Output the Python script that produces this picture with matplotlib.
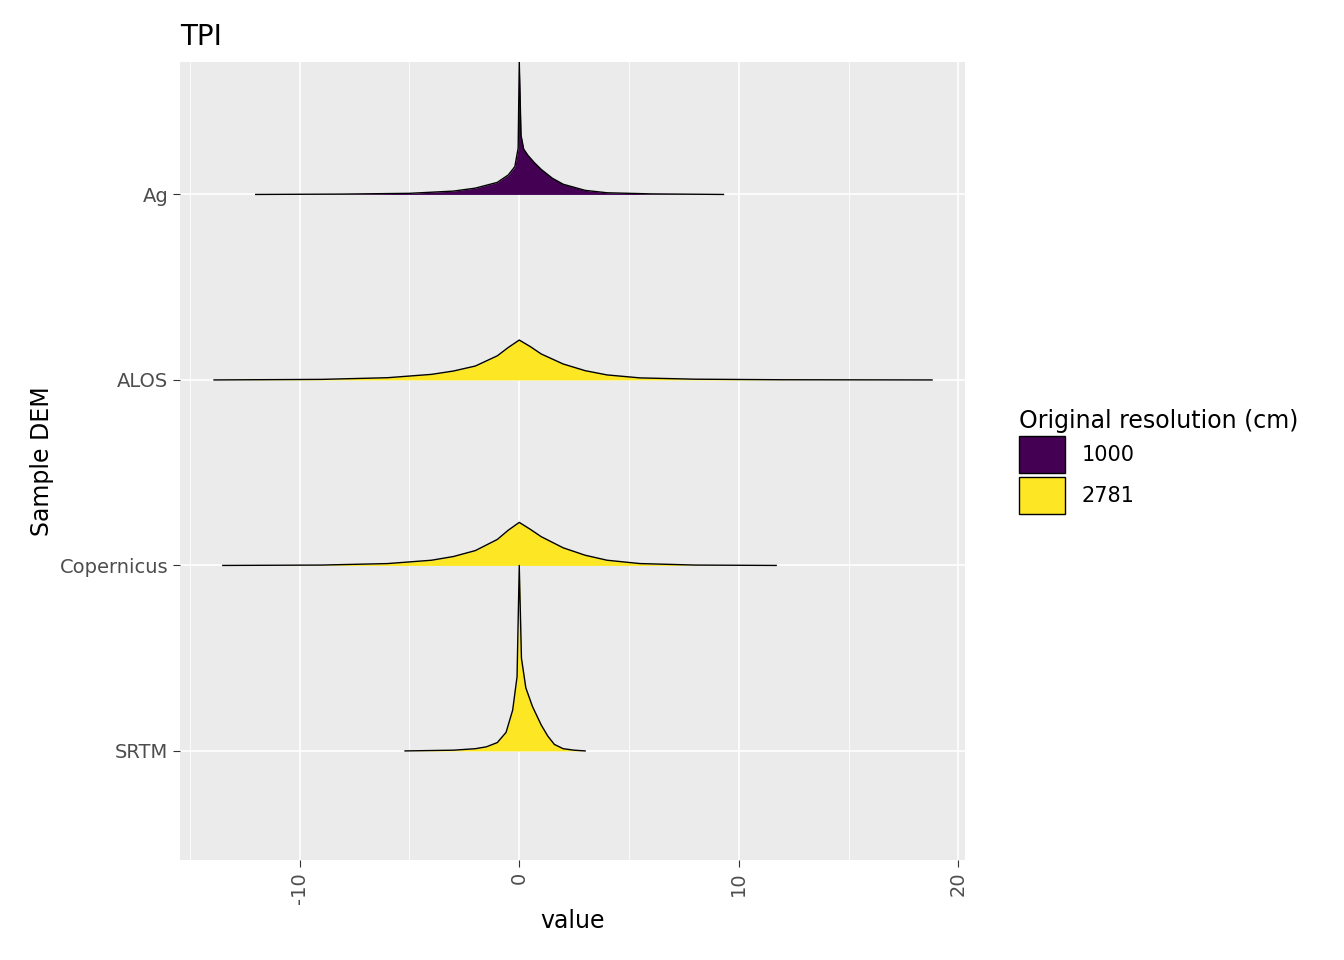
import matplotlib
matplotlib.use("Agg")
import matplotlib.pyplot as plt
from matplotlib.patches import Patch
import numpy as np

categories = ["SRTM", "Copernicus", "ALOS", "Ag"]
resolution = ["2781", "2781", "2781", "1000"]
res_colors = {"1000": "#440154", "2781": "#FDE725"}

# ridge profiles: x values and heights (in category-spacing units)
ag_x = [-12, -8, -5, -3, -2, -1, -0.5, -0.2, -0.05, 0, 0.08, 0.2, 0.4, 0.7, 1, 1.5, 2, 3, 4, 6, 9.3]
ag_h = [0, 0.002, 0.006, 0.018, 0.034, 0.065, 0.105, 0.15, 0.25, 0.717, 0.32, 0.245, 0.21, 0.17, 0.135, 0.088, 0.055, 0.022, 0.009, 0.003, 0]
alos_x = [-13.9, -9, -6, -4, -3, -2, -1, -0.5, 0, 0.5, 1, 2, 3, 4, 5.5, 8, 12, 18.8]
alos_h = [0, 0.003, 0.012, 0.03, 0.048, 0.075, 0.13, 0.175, 0.215, 0.18, 0.14, 0.086, 0.05, 0.027, 0.011, 0.004, 0.001, 0]
cop_x = [-13.5, -9, -6, -4, -3, -2, -1, -0.5, 0, 0.5, 1, 2, 3, 4, 5.5, 8, 11.7]
cop_h = [0, 0.002, 0.01, 0.028, 0.048, 0.08, 0.14, 0.19, 0.232, 0.195, 0.155, 0.095, 0.055, 0.028, 0.01, 0.002, 0]
srtm_x = [-5.2, -3, -2, -1.5, -1, -0.6, -0.3, -0.1, 0, 0.1, 0.3, 0.6, 1, 1.3, 1.6, 2, 2.5, 3]
srtm_h = [0, 0.004, 0.012, 0.022, 0.045, 0.1, 0.22, 0.4, 1.0, 0.5, 0.34, 0.24, 0.14, 0.08, 0.035, 0.012, 0.004, 0]

profiles = {"Ag": (ag_x, ag_h), "ALOS": (alos_x, alos_h),
            "Copernicus": (cop_x, cop_h), "SRTM": (srtm_x, srtm_h)}

fig = plt.figure(figsize=(13.44, 9.6), dpi=100)
ax = fig.add_axes([180/1344, 1-860/960, 785/1344, 798/960])
ax.set_facecolor("#EBEBEB")
ax.set_xlim(-15.45, 20.3)
ax.set_ylim(0.412, 4.714)

for v in [-15, -5, 5, 15]:
    ax.axvline(v, color="white", lw=0.6, zorder=0)
for v in [-10, 0, 10, 20]:
    ax.axvline(v, color="white", lw=1.2, zorder=0)
for i in range(1, 5):
    ax.axhline(i, color="white", lw=1.2, zorder=0)

for i, cat in enumerate(categories):
    base = i + 1
    x, h = profiles[cat]
    x = np.array(x); y = base + np.array(h)
    z = 10 - i
    ax.fill_between(x, base, y, color=res_colors[resolution[i]], zorder=z, lw=0)
    ax.plot(x, y, color="black", lw=1.0, zorder=z + 0.5)

ax.set_yticks(range(1, 5))
ax.set_yticklabels(categories, fontsize=14, color="#4D4D4D")
ax.set_xticks([-10, 0, 10, 20])
ax.set_xticklabels(["-10", "0", "10", "20"], rotation=90, fontsize=14, color="#4D4D4D")
ax.tick_params(length=5, color="#333333")
for s in ax.spines.values():
    s.set_visible(False)
ax.set_xlabel("value", fontsize=17)
ax.set_ylabel("Sample DEM", fontsize=17)
ax.set_title("TPI", fontsize=20, loc="left", x=0, pad=12)

handles = [Patch(facecolor=res_colors[k], edgecolor="black", label=k) for k in ["1000", "2781"]]
leg = fig.legend(handles=handles, title="Original resolution (cm)", loc="upper left",
                 bbox_to_anchor=(1000/1344, 1-390/960), frameon=False, fontsize=15,
                 title_fontsize=17, handlelength=2.2, handleheight=2.4, labelspacing=0.15)
leg._legend_box.align = "left"
fig.savefig("out.png", dpi=100)
